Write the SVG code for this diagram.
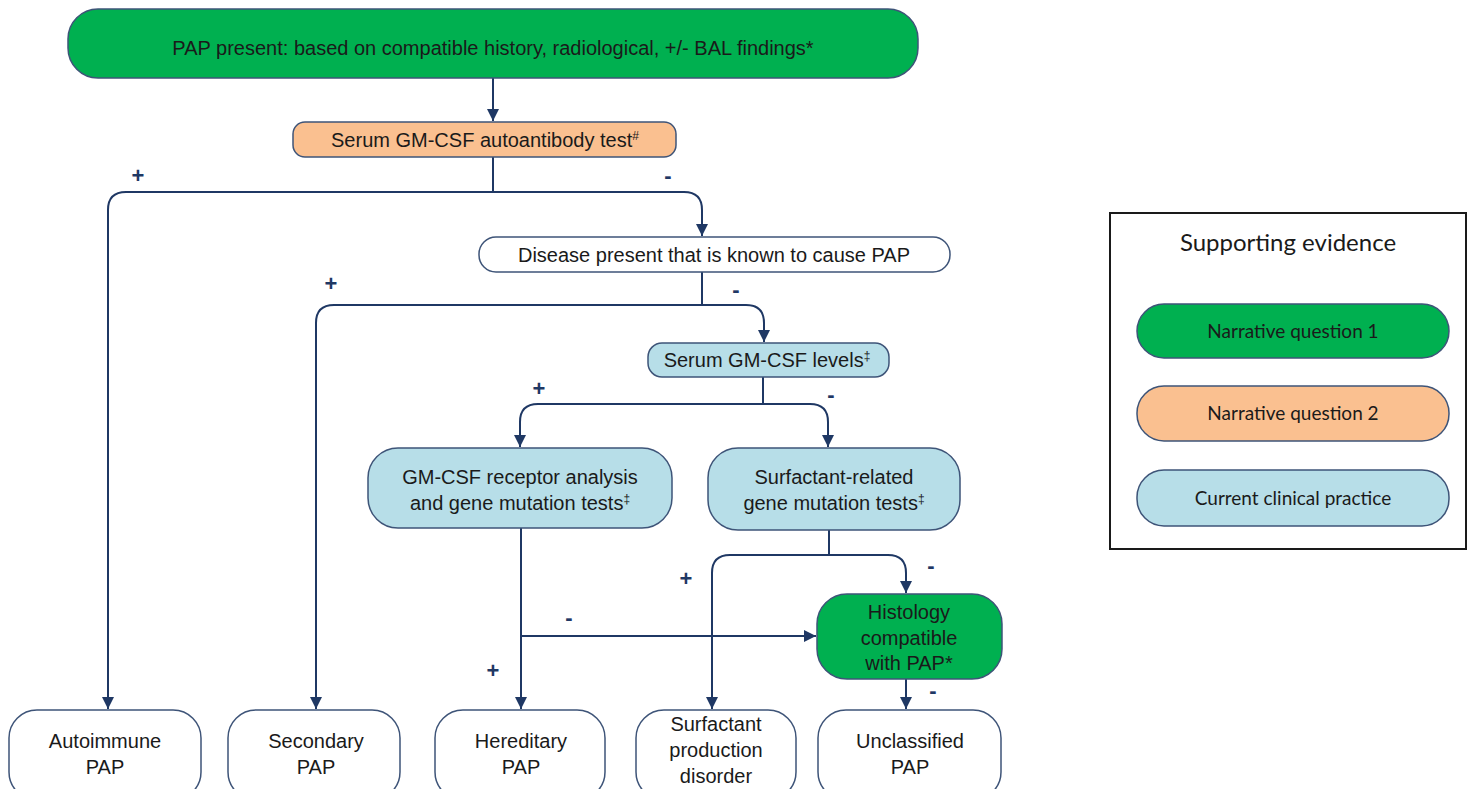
<svg xmlns="http://www.w3.org/2000/svg" width="1472" height="789" viewBox="0 0 1472 789">
<style>
.box{stroke:#3E5478;stroke-width:1.5}
.g{fill:#00B050}
.o{fill:#FAC090}
.b{fill:#B7DEE8}
.w{fill:#FFFFFF}
.t{font-family:"Liberation Sans",Arial,sans-serif;font-size:20px;fill:#1a1a1a;text-anchor:middle}
.lt{font-family:Lato,"Open Sans",sans-serif;font-size:19px;fill:#1a1a1a;text-anchor:middle}
.lh{font-family:Lato,"Open Sans",sans-serif;font-size:24px;fill:#1a1a1a;text-anchor:middle}
.c{fill:none;stroke:#1F3864;stroke-width:2}
.s{font-family:"Liberation Sans",Arial,sans-serif;font-size:22px;font-weight:bold;fill:#1F3864;text-anchor:middle}
</style>
<defs>
<marker id="ah" viewBox="0 0 10 10" refX="10" refY="5" markerWidth="6" markerHeight="6" markerUnits="strokeWidth" orient="auto">
<path d="M0,0 L10,5 L0,10 z" fill="#1F3864"/>
</marker>
</defs>
<rect width="1472" height="789" fill="#FFFFFF"/>

<g id="connectors">
<path class="c" d="M493,78 V121" marker-end="url(#ah)"/>
<path class="c" d="M493,157 V192 H126 Q108,192 108,210 V709" marker-end="url(#ah)"/>
<path class="c" d="M493,192 H684 Q702,192 702,210 V236" marker-end="url(#ah)"/>
<path class="c" d="M702,272 V305 H334 Q316,305 316,323 V709" marker-end="url(#ah)"/>
<path class="c" d="M702,305 H746 Q764,305 764,323 V342" marker-end="url(#ah)"/>
<path class="c" d="M763,377 V404 H538 Q520,404 520,422 V447" marker-end="url(#ah)"/>
<path class="c" d="M763,404 H810 Q828,404 828,422 V447" marker-end="url(#ah)"/>
<path class="c" d="M521,528 V709" marker-end="url(#ah)"/>
<path class="c" d="M521,636 H816" marker-end="url(#ah)"/>
<path class="c" d="M829,530 V555 H730 Q712,555 712,573 V709" marker-end="url(#ah)"/>
<path class="c" d="M829,555 H888 Q906,555 906,573 V593" marker-end="url(#ah)"/>
<path class="c" d="M906,679 V709" marker-end="url(#ah)"/>
<text class="s" x="138" y="183">+</text>
<text class="s" x="668" y="183">-</text>
<text class="s" x="331" y="291">+</text>
<text class="s" x="736" y="297">-</text>
<text class="s" x="539" y="396">+</text>
<text class="s" x="831" y="402">-</text>
<text class="s" x="569" y="625">-</text>
<text class="s" x="493" y="678">+</text>
<text class="s" x="686" y="586">+</text>
<text class="s" x="931" y="573">-</text>
<text class="s" x="933" y="698">-</text>
</g>

<g id="n-pap-present">
<rect class="box g" x="68" y="9" width="850" height="69" rx="30"/>
<text class="t" x="493" y="55">PAP present: based on compatible history, radiological, +/- BAL findings*</text>
</g>
<g id="n-autoantibody">
<rect class="box o" x="293" y="122" width="383" height="35" rx="12"/>
<text class="t" x="485" y="147">Serum GM-CSF autoantibody test<tspan font-size="12" dy="-7">#</tspan></text>
</g>
<g id="n-disease">
<rect class="box w" x="479" y="237" width="471" height="35" rx="17"/>
<text class="t" x="714" y="262">Disease present that is known to cause PAP</text>
</g>
<g id="n-levels">
<rect class="box b" x="648" y="343" width="241" height="34" rx="14"/>
<text class="t" x="767" y="367">Serum GM-CSF levels<tspan font-size="12" dy="-7">‡</tspan></text>
</g>
<g id="n-receptor">
<rect class="box b" x="368" y="448" width="304" height="80" rx="30"/>
<text class="t" x="520" y="484">GM-CSF receptor analysis</text>
<text class="t" x="520" y="510">and gene mutation tests<tspan font-size="12" dy="-7">‡</tspan></text>
</g>
<g id="n-surfactant-tests">
<rect class="box b" x="708" y="448" width="252" height="82" rx="30"/>
<text class="t" x="834" y="484">Surfactant-related</text>
<text class="t" x="834" y="510">gene mutation tests<tspan font-size="12" dy="-7">‡</tspan></text>
</g>
<g id="n-histology">
<rect class="box g" x="817" y="594" width="185" height="85" rx="30"/>
<text class="t" x="909" y="619">Histology</text>
<text class="t" x="909" y="645">compatible</text>
<text class="t" x="909" y="670">with PAP*</text>
</g>
<g id="n-autoimmune">
<rect class="box w" x="9" y="710" width="192" height="90" rx="28"/>
<text class="t" x="105" y="748">Autoimmune</text>
<text class="t" x="105" y="774">PAP</text>
</g>
<g id="n-secondary">
<rect class="box w" x="228" y="710" width="172" height="90" rx="28"/>
<text class="t" x="316" y="748">Secondary</text>
<text class="t" x="316" y="774">PAP</text>
</g>
<g id="n-hereditary">
<rect class="box w" x="435" y="710" width="170" height="90" rx="28"/>
<text class="t" x="521" y="748">Hereditary</text>
<text class="t" x="521" y="774">PAP</text>
</g>
<g id="n-production">
<rect class="box w" x="636" y="710" width="160" height="90" rx="28"/>
<text class="t" x="716" y="731">Surfactant</text>
<text class="t" x="716" y="757">production</text>
<text class="t" x="716" y="783">disorder</text>
</g>
<g id="n-unclassified">
<rect class="box w" x="818" y="710" width="183" height="90" rx="28"/>
<text class="t" x="910" y="748">Unclassified</text>
<text class="t" x="910" y="774">PAP</text>
</g>

<g id="legend">
<rect x="1110" y="213" width="356" height="336" fill="#FFFFFF" stroke="#1a1a1a" stroke-width="2"/>
<text class="lh" x="1288" y="251">Supporting evidence</text>
<rect class="box g" x="1137" y="304" width="312" height="54" rx="27"/>
<text class="lt" x="1293" y="338">Narrative question 1</text>
<rect class="box o" x="1137" y="386" width="312" height="55" rx="27"/>
<text class="lt" x="1293" y="420">Narrative question 2</text>
<rect class="box b" x="1137" y="470" width="312" height="56" rx="27"/>
<text class="lt" x="1293" y="505">Current clinical practice</text>
</g>
</svg>
